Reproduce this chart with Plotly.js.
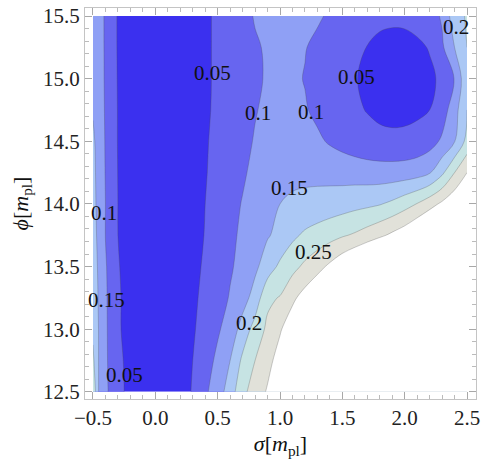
<!DOCTYPE html>
<html>
<head>
<meta charset="utf-8">
<script src="https://cdn.plot.ly/plotly-3.0.1.min.js"></script>
<style>html,body{margin:0;padding:0;background:#fff;}#chart{width:491px;height:459px;}</style>
</head>
<body>
<div id="chart"></div>
<script>
// sigma grid (x) and phi grid (y)
var sigma = [-0.5, -0.45, -0.4, -0.3, -0.2, -0.1, 0, 0.1, 0.2, 0.3, 0.4, 0.5, 0.6, 0.7, 0.8, 0.9, 1.0, 1.1, 1.2, 1.3, 1.4, 1.5, 1.6, 1.7, 1.8, 1.9, 2.0, 2.1, 2.2, 2.3, 2.4, 2.5];
var phi = [12.5, 12.75, 13.0, 13.25, 13.5, 13.75, 14.0, 14.25, 14.5, 14.75, 15.0, 15.25, 15.5];

// values, one row per phi
var z_12_50 = [0.24, 0.14, 0.108, 0.07, 0.03, 0.025, 0.024, 0.025, 0.032, 0.053, 0.092, 0.125, 0.175, 0.237, 0.273, 0.305, 0.34, 0.37, 0.40, 0.43, 0.46, 0.49, 0.52, 0.55, 0.58, 0.61, 0.64, 0.67, 0.70, 0.73, 0.76, 0.79];
var z_12_75 = [0.21, 0.143, 0.107, 0.065, 0.03, 0.026, 0.025, 0.026, 0.033, 0.05, 0.08, 0.11, 0.15, 0.21, 0.25, 0.285, 0.32, 0.35, 0.38, 0.41, 0.44, 0.47, 0.50, 0.53, 0.56, 0.59, 0.62, 0.65, 0.68, 0.71, 0.74, 0.77];
var z_13_00 = [0.19, 0.145, 0.108, 0.054, 0.038, 0.03, 0.028, 0.029, 0.034, 0.046, 0.064, 0.094, 0.12, 0.17, 0.22, 0.26, 0.295, 0.33, 0.36, 0.39, 0.42, 0.45, 0.48, 0.51, 0.54, 0.57, 0.60, 0.63, 0.66, 0.69, 0.72, 0.75];
var z_13_25 = [0.18, 0.143, 0.107, 0.054, 0.038, 0.032, 0.03, 0.031, 0.035, 0.044, 0.058, 0.078, 0.104, 0.13, 0.17, 0.24, 0.253, 0.29, 0.32, 0.35, 0.38, 0.41, 0.44, 0.47, 0.50, 0.53, 0.56, 0.59, 0.62, 0.65, 0.68, 0.71];
var z_13_50 = [0.175, 0.14, 0.105, 0.052, 0.038, 0.032, 0.03, 0.031, 0.035, 0.042, 0.054, 0.072, 0.094, 0.116, 0.14, 0.175, 0.21, 0.235, 0.26, 0.283, 0.31, 0.34, 0.37, 0.40, 0.43, 0.46, 0.49, 0.52, 0.55, 0.58, 0.61, 0.64];
var z_13_75 = [0.17, 0.135, 0.099, 0.05, 0.037, 0.032, 0.03, 0.031, 0.034, 0.041, 0.051, 0.068, 0.088, 0.11, 0.13, 0.146, 0.163, 0.19, 0.208, 0.22, 0.232, 0.245, 0.256, 0.272, 0.29, 0.31, 0.33, 0.36, 0.39, 0.42, 0.45, 0.48];
var z_14_00 = [0.168, 0.13, 0.1, 0.05, 0.037, 0.032, 0.03, 0.031, 0.034, 0.04, 0.05, 0.065, 0.083, 0.103, 0.12, 0.135, 0.15, 0.158, 0.163, 0.168, 0.173, 0.178, 0.185, 0.19, 0.197, 0.21, 0.23, 0.252, 0.28, 0.31, 0.34, 0.37];
var z_14_25 = [0.165, 0.128, 0.098, 0.049, 0.037, 0.032, 0.03, 0.031, 0.034, 0.039, 0.048, 0.06, 0.075, 0.093, 0.113, 0.127, 0.135, 0.138, 0.138, 0.136, 0.133, 0.13, 0.127, 0.124, 0.122, 0.122, 0.124, 0.13, 0.146, 0.19, 0.25, 0.3];
var z_14_50 = [0.16, 0.125, 0.097, 0.048, 0.036, 0.031, 0.029, 0.03, 0.034, 0.04, 0.047, 0.058, 0.07, 0.085, 0.104, 0.118, 0.126, 0.126, 0.12, 0.108, 0.095, 0.084, 0.074, 0.066, 0.062, 0.06, 0.062, 0.068, 0.08, 0.108, 0.148, 0.215];
var z_14_75 = [0.145, 0.12, 0.096, 0.048, 0.036, 0.031, 0.029, 0.03, 0.034, 0.04, 0.046, 0.055, 0.066, 0.08, 0.097, 0.11, 0.118, 0.115, 0.104, 0.09, 0.078, 0.066, 0.057, 0.048, 0.04, 0.037, 0.037, 0.041, 0.05, 0.075, 0.13, 0.2];
var z_15_00 = [0.14, 0.118, 0.095, 0.047, 0.036, 0.031, 0.029, 0.03, 0.034, 0.04, 0.046, 0.054, 0.064, 0.076, 0.09, 0.106, 0.11, 0.108, 0.098, 0.085, 0.072, 0.062, 0.052, 0.043, 0.036, 0.033, 0.033, 0.037, 0.044, 0.056, 0.102, 0.19];
var z_15_25 = [0.135, 0.116, 0.095, 0.046, 0.036, 0.031, 0.029, 0.03, 0.035, 0.04, 0.046, 0.054, 0.065, 0.079, 0.094, 0.106, 0.112, 0.11, 0.102, 0.09, 0.078, 0.068, 0.058, 0.049, 0.042, 0.04, 0.04, 0.044, 0.052, 0.092, 0.15, 0.2];
var z_15_50 = [0.13, 0.115, 0.095, 0.046, 0.036, 0.031, 0.029, 0.03, 0.035, 0.04, 0.046, 0.054, 0.066, 0.082, 0.104, 0.115, 0.12, 0.12, 0.115, 0.106, 0.094, 0.084, 0.075, 0.068, 0.058, 0.056, 0.057, 0.062, 0.078, 0.106, 0.18, 0.205];

// contour label texts and where they sit (sigma, phi)
var labelText = ["0.05", "0.1", "0.1", "0.05", "0.2", "0.15", "0.25", "0.2", "0.1", "0.15", "0.05"];
var labelSigma = [0.462, 0.823, 1.248, 1.617, 2.41, 1.08, 1.27, 0.751, -0.412, -0.388, -0.251];
var labelPhi = [15.045, 14.726, 14.734, 15.013, 15.41, 14.13, 13.62, 13.05, 13.93, 13.23, 12.635];

var bandColors = ["#3b30ef", "#6765f0", "#8fa0f5", "#abc8f5", "#c6e3e3", "#e1e1d9", "#ffffff"];

var z = [z_12_50, z_12_75, z_13_00, z_13_25, z_13_50, z_13_75, z_14_00, z_14_25, z_14_50, z_14_75, z_15_00, z_15_25, z_15_50];

var cs = bandColors.map(function (c, i) { return [i / (bandColors.length - 1), c]; });

var trace = {
  type: 'contour',
  x: sigma,
  y: phi,
  z: z,
  colorscale: cs,
  showscale: false,
  autocontour: false,
  contours: {start: 0.05, end: 0.3, size: 0.05, coloring: 'fill', showlabels: false},
  line: {color: 'rgba(70,70,70,0.45)', width: 0.6, smoothing: 1}
};

var annotations = labelText.map(function (t, i) {
  return {x: labelSigma[i], y: labelPhi[i], xref: 'x', yref: 'y', text: t, showarrow: false,
    font: {family: 'Times New Roman', size: 21, color: '#111'}, xanchor: 'center', yanchor: 'middle'};
});

var layout = {
  width: 491, height: 459,
  margin: {l: 85, r: 15, t: 8, b: 60},
  paper_bgcolor: '#fff', plot_bgcolor: '#fff',
  xaxis: {
    range: [-0.564, 2.572], tick0: -0.5, dtick: 0.5, tickformat: '.1f',
    showgrid: false, zeroline: false, showline: true, linecolor: '#c4c4c4', linewidth: 1,
    mirror: 'ticks', ticks: 'inside', ticklen: 7, tickcolor: '#a8a8a8', tickwidth: 1,
    tickfont: {family: 'Times New Roman', size: 21, color: '#222'},
    minor: {dtick: 0.1, ticks: 'inside', ticklen: 4, tickcolor: '#bbbbbb', tickwidth: 1},
    title: {text: '<i>σ</i>[<i>m</i><sub>pl</sub>]', font: {family: 'Times New Roman', size: 22, color: '#111'}, standoff: 6}
  },
  yaxis: {
    range: [12.443, 15.564], tick0: 12.5, dtick: 0.5, tickformat: '.1f',
    showgrid: false, zeroline: false, showline: true, linecolor: '#c4c4c4', linewidth: 1,
    mirror: 'ticks', ticks: 'inside', ticklen: 7, tickcolor: '#a8a8a8', tickwidth: 1,
    tickfont: {family: 'Times New Roman', size: 21, color: '#222'},
    minor: {dtick: 0.1, ticks: 'inside', ticklen: 4, tickcolor: '#bbbbbb', tickwidth: 1},
    title: {text: '<i>ϕ</i>[<i>m</i><sub>pl</sub>]', font: {family: 'Times New Roman', size: 22, color: '#111'}, standoff: 8}
  },
  annotations: annotations,
  showlegend: false
};

Plotly.newPlot('chart', [trace], layout, {displayModeBar: false});
</script>
</body>
</html>
